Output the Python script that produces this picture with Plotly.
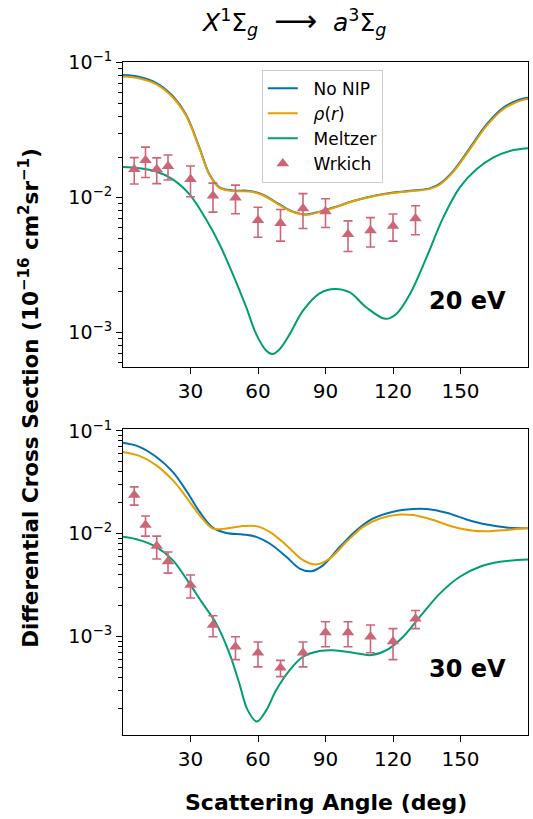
import plotly.graph_objects as go

# ---------------- data ----------------
# 20 eV panel
x20_nonip = [0, 7.3, 14.7, 22.1, 28, 34, 38.4, 42.9, 48.8, 56.3, 62.2, 69.6, 75.5, 81.5, 87.4, 94.8,
             102.3, 111.2, 120.1, 129, 136.4, 140.9, 146.8, 154.2, 161.6, 169, 176.4, 180]
y20_nonip = [0.0811, 0.0785, 0.0711, 0.0567, 0.0414, 0.0234, 0.0149, 0.0119, 0.0113, 0.0112, 0.0105,
             0.0089, 0.00787, 0.0075, 0.00787, 0.00857, 0.00944, 0.01028, 0.01089, 0.0113, 0.0117,
             0.0127, 0.0158, 0.0234, 0.0349, 0.0464, 0.0535, 0.0551]
y20_rho = [0.0790, 0.0765, 0.0695, 0.0555, 0.0406, 0.0231, 0.0148, 0.0118, 0.0112, 0.0111, 0.0104,
           0.0088, 0.00782, 0.00746, 0.00782, 0.00852, 0.00938, 0.01022, 0.01083, 0.0112, 0.0116,
           0.0125, 0.0155, 0.0229, 0.0340, 0.0452, 0.0522, 0.0538]
x20_meltzer = [0, 7.3, 14.7, 22.1, 29.5, 36.9, 42.9, 48.8, 54.8, 59.2, 63.7, 66.4, 69.6, 74.1, 80,
               87.4, 94.1, 100.8, 108.2, 116.7, 121.5, 127.5, 134.9, 142.3, 149.7, 157.1, 164.5, 172, 180]
y20_meltzer = [0.01687, 0.0165, 0.0156, 0.01367, 0.0106, 0.0069, 0.00451, 0.0027, 0.00153, 0.00097,
               0.00073, 0.00069, 0.00075, 0.00097, 0.00145, 0.00195, 0.0021, 0.00198, 0.00153,
               0.00126, 0.00137, 0.00192, 0.0036, 0.0071, 0.0119, 0.0162, 0.0198, 0.0222, 0.0232]
x_exp = [5, 10, 15, 20, 30, 40, 50, 60, 70, 80, 90, 100, 110, 120, 130]
y20_exp = [0.0162, 0.0189, 0.0162, 0.0171, 0.01365, 0.0103, 0.00998, 0.00678, 0.00645, 0.0083,
           0.0079, 0.00535, 0.0057, 0.00615, 0.0070]
e20_exp = [0.0036, 0.0048, 0.0035, 0.0036, 0.0035, 0.0025, 0.0024, 0.0017, 0.0017, 0.0024,
           0.0019, 0.00137, 0.0014, 0.0014, 0.0017]

# 30 eV panel
x30_nonip = [0, 7.3, 14.7, 22.1, 28, 34, 39.9, 45.9, 53.3, 59.2, 65.2, 72.6, 78.5, 83.8, 89, 96.4,
             103.8, 111.2, 120.1, 129, 134.9, 143.8, 152.7, 161.6, 170.5, 180]
y30_nonip = [0.0765, 0.070, 0.056, 0.040, 0.0265, 0.0164, 0.0115, 0.0102, 0.00985, 0.00935, 0.00805,
             0.00598, 0.0046, 0.00434, 0.00497, 0.00748, 0.01086, 0.0141, 0.0164, 0.0174, 0.0174,
             0.0160, 0.0138, 0.0123, 0.0115, 0.01135]
x30_rho = [0, 7.3, 14.7, 22.1, 28, 34, 39.9, 45.9, 53.3, 59.2, 65.2, 72.6, 80, 85.9, 91.9, 99.3,
           106.7, 114.2, 123.1, 129, 137.9, 146.8, 155.7, 163.1, 170.5, 180]
y30_rho = [0.0625, 0.0572, 0.0465, 0.0332, 0.0229, 0.0152, 0.01127, 0.01127, 0.01188, 0.01188,
           0.01045, 0.00776, 0.00556, 0.00504, 0.00576, 0.00836, 0.0117, 0.0141, 0.0154, 0.0152,
           0.0136, 0.0117, 0.0107, 0.0106, 0.0109, 0.0114]
x30_meltzer = [0, 7.3, 14.7, 22.1, 29.5, 35.4, 41.4, 47.3, 51.7, 55.4, 59.5, 63.7, 68.1, 74.1, 80,
               87.4, 93.3, 102.3, 110.4, 117.1, 124.5, 131.9, 140.9, 149.7, 158.6, 167.5, 180]
y30_meltzer = [0.00935, 0.00869, 0.00748, 0.00556, 0.0033, 0.00211, 0.00135, 0.00069, 0.000352,
               0.000194, 0.00015, 0.000194, 0.000304, 0.000475, 0.00064, 0.000726, 0.00074, 0.0007,
               0.000664, 0.00074, 0.001, 0.00156, 0.00264, 0.00383, 0.00479, 0.00535, 0.00562]
y30_exp = [0.0238, 0.0122, 0.0076, 0.0054, 0.00318, 0.0013, 0.0008, 0.0007, 0.0005, 0.0007,
           0.0011, 0.0011, 0.0010, 0.0009, 0.0015]
e30_exp = [0.0048, 0.0027, 0.0019, 0.00125, 0.0008, 0.0003, 0.0002, 0.00019, 0.00009, 0.00019,
           0.0003, 0.0003, 0.0003, 0.0003, 0.0003]

x_ticks = [30, 60, 90, 120, 150]
y_ticks = [1e-3, 1e-2, 1e-1]
y_ticktext = ["10<sup>−3</sup>", "10<sup>−2</sup>", "10<sup>−1</sup>"]
NB = "\u00a0\u00a0"
labels = [NB + "No NIP", NB + "<i>ρ</i>(<i>r</i>)", NB + "Meltzer", NB + "Wrkich"]

# ---------------- style ----------------
C_BLUE = "#0072B2"
C_ORANGE = "#E69F00"
C_GREEN = "#009E73"
C_ROSE = "#CC6677"
FONT = "DejaVu Sans"

fig = go.Figure()


def add_panel(xa, ya, xn, yn, xr, yr, xm, ym, ye, ee, show):
    fig.add_trace(go.Scatter(x=xn, y=yn, mode="lines", name=labels[0], showlegend=show,
                             line=dict(color=C_BLUE, width=2, shape="spline"), xaxis=xa, yaxis=ya))
    fig.add_trace(go.Scatter(x=xr, y=yr, mode="lines", name=labels[1], showlegend=show,
                             line=dict(color=C_ORANGE, width=2, shape="spline"), xaxis=xa, yaxis=ya))
    fig.add_trace(go.Scatter(x=xm, y=ym, mode="lines", name=labels[2], showlegend=show,
                             line=dict(color=C_GREEN, width=2, shape="spline"), xaxis=xa, yaxis=ya))
    fig.add_trace(go.Scatter(x=x_exp, y=ye, mode="markers", name=labels[3], showlegend=show,
                             marker=dict(symbol="triangle-up", size=11, color=C_ROSE),
                             error_y=dict(type="data", array=ee, color=C_ROSE, thickness=1.6, width=4.5),
                             xaxis=xa, yaxis=ya))


add_panel("x", "y", x20_nonip, y20_nonip, x20_nonip, y20_rho, x20_meltzer, y20_meltzer,
          y20_exp, e20_exp, True)
add_panel("x2", "y2", x30_nonip, y30_nonip, x30_rho, y30_rho, x30_meltzer, y30_meltzer,
          y30_exp, e30_exp, False)

minor_vals = [m * 10 ** k for k in (-5, -4, -3, -2, -1) for m in range(2, 10)]

axis_common = dict(showline=True, mirror=True, linecolor="black", linewidth=1.1,
                   ticks="outside", ticklen=6, tickwidth=1.1, tickcolor="black",
                   showgrid=False, zeroline=False)

xaxis_style = dict(axis_common, range=[0, 180], tickmode="array", tickvals=x_ticks,
                   tickfont=dict(family=FONT, size=20, color="black"))
yaxis_style = dict(axis_common, type="log", tickmode="array", tickvals=y_ticks, ticktext=y_ticktext,
                   tickfont=dict(family=FONT, size=19, color="black"),
                   minor=dict(ticks="outside", ticklen=3.5, tickwidth=1, tickcolor="black",
                              tickmode="array", tickvals=minor_vals, showgrid=False))

fig.update_layout(
    width=533, height=819,
    margin=dict(l=123, r=5, t=62, b=84),
    paper_bgcolor="white", plot_bgcolor="white",
    font=dict(family=FONT, color="black"),
    xaxis=dict(xaxis_style, anchor="y", domain=[0, 1]),
    yaxis=dict(yaxis_style, anchor="x", domain=[0.5466, 1], range=[-3.258, -0.994]),
    xaxis2=dict(xaxis_style, anchor="y2", domain=[0, 1]),
    yaxis2=dict(yaxis_style, anchor="x2", domain=[0, 0.4545], range=[-3.954, -0.983]),
    legend=dict(x=0.3427, y=0.9887, xanchor="left", yanchor="top",
                bgcolor="rgba(255,255,255,0.8)", bordercolor="#cccccc", borderwidth=1,
                font=dict(family=FONT, size=17, color="black"), tracegroupgap=0),
    showlegend=True,
)

annotations = [
    dict(text="<i>X</i><sup>1</sup>Σ<sub><i>g</i></sub>\u00a0\u00a0<span style='font-size:30px'>⟶</span>\u00a0\u00a0<i>a</i><sup>3</sup>Σ<sub><i>g</i></sub>",
         x=0.4206, y=1.06, xref="paper", yref="paper", showarrow=False,
         xanchor="center", yanchor="middle", font=dict(family=FONT, size=25)),
    dict(text="<b>20 eV</b>", x=0.851, y=0.6446, xref="paper", yref="paper", showarrow=False,
         xanchor="center", yanchor="middle", font=dict(family=FONT, size=24)),
    dict(text="<b>30 eV</b>", x=0.851, y=0.098, xref="paper", yref="paper", showarrow=False,
         xanchor="center", yanchor="middle", font=dict(family=FONT, size=24)),
    dict(text="<b>Scattering Angle (deg)</b>", x=0.5, y=-0.101, xref="paper", yref="paper",
         showarrow=False, xanchor="center", yanchor="middle", font=dict(family=FONT, size=22)),
    dict(text="<b>Differential Cross Section (10<sup>−16</sup> cm<sup>2</sup>sr<sup>−1</sup>)</b>",
         x=-0.2305, y=0.5005, xref="paper", yref="paper", showarrow=False, textangle=-90,
         xanchor="center", yanchor="middle", font=dict(family=FONT, size=21.5)),
]
fig.update_layout(annotations=annotations)

fig.write_html("out.html")
